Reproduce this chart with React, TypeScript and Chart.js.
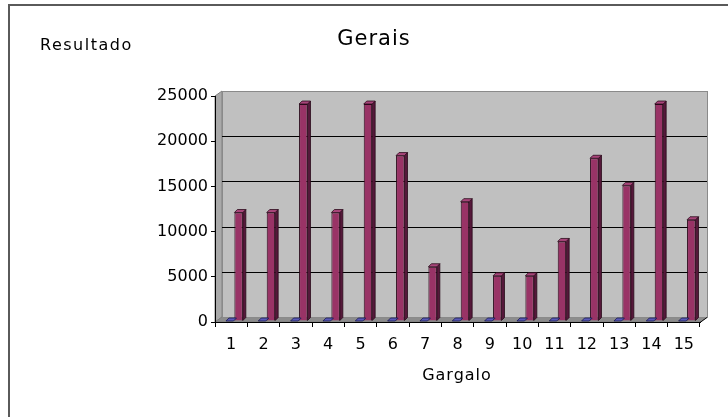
import React, { useEffect, useRef } from "react";
import { Chart, registerables } from "chart.js";

Chart.register(...registerables);

// ---- data ----
const categories = ["1", "2", "3", "4", "5", "6", "7", "8", "9", "10", "11", "12", "13", "14", "15"];
const serie1 = [0, 0, 0, 0, 0, 0, 0, 0, 0, 0, 0, 0, 0, 0, 0];
const serie2 = [12000, 12000, 24000, 12000, 24000, 18300, 6000, 13200, 5000, 5000, 8800, 18000, 15000, 24000, 11200];
const yTicks = [0, 5000, 10000, 15000, 20000, 25000];
const chartTitle = "Gerais";
const yTitle = "Resultado";
const xTitle = "Gargalo";

// ---- 3D look ----
const DX = 7;
const DY = -5;
const BX = 3;
const BY = -1;
const BD = 3;
const FONT = '"DejaVu Sans", sans-serif';

const faceColors = [
  { top: "#5a5ab8", side: "#2a2a70", edge: "#1a1a50" },
  { top: "#a8457a", side: "#55183a", edge: "#2a0a1a" },
];

function poly(ctx: CanvasRenderingContext2D, pts: number[][]) {
  ctx.beginPath();
  ctx.moveTo(pts[0][0], pts[0][1]);
  for (let i = 1; i < pts.length; i++) ctx.lineTo(pts[i][0], pts[i][1]);
  ctx.closePath();
}

const chart3d = {
  id: "chart3d",
  beforeDraw(chart: any) {
    const { ctx, chartArea } = chart;
    const { left, right, top, bottom } = chartArea;
    const y = chart.scales.y;
    ctx.save();
    // outer frame
    ctx.strokeStyle = "#5a5a5a";
    ctx.lineWidth = 2;
    ctx.beginPath();
    ctx.moveTo(9, 417);
    ctx.lineTo(9, 5);
    ctx.lineTo(728, 5);
    ctx.stroke();

    // side wall
    ctx.fillStyle = "#a9a9a9";
    poly(ctx, [[left, top], [left + DX, top + DY], [left + DX, bottom + DY], [left, bottom]]);
    ctx.fill();
    ctx.strokeStyle = "#808080";
    ctx.lineWidth = 1;
    ctx.stroke();
    // floor
    ctx.fillStyle = "#8c8c8c";
    poly(ctx, [[left, bottom], [left + DX, bottom + DY], [right + DX, bottom + DY], [right, bottom]]);
    ctx.fill();
    ctx.stroke();
    // back wall
    ctx.fillStyle = "#c0c0c0";
    ctx.fillRect(left + DX, top + DY, right - left, bottom - top);
    ctx.strokeStyle = "#8a8a8a";
    ctx.strokeRect(left + DX + 0.5, top + DY + 0.5, right - left, bottom - top);
    // gridlines on wall
    ctx.strokeStyle = "#000";
    ctx.lineWidth = 1;
    for (const v of yTicks) {
      if (v === 0 || v === 25000) continue;
      const py = Math.round(y.getPixelForValue(v) + DY) + 0.5;
      ctx.beginPath();
      ctx.moveTo(left + DX, py);
      ctx.lineTo(right + DX, py);
      ctx.stroke();
    }
    // right end diagonal of the x axis
    ctx.beginPath();
    ctx.moveTo(right, bottom + 0.5);
    ctx.lineTo(right + DX, bottom + DY + 0.5);
    ctx.stroke();
    ctx.restore();
  },
  beforeDatasetsDraw(chart: any) {
    chart.ctx.save();
    chart.ctx.translate(BX, BY);
  },
  afterDatasetsDraw(chart: any) {
    const ctx = chart.ctx;
    chart.data.datasets.forEach((_ds: any, di: number) => {
      const meta = chart.getDatasetMeta(di);
      const c = faceColors[di];
      meta.data.forEach((el: any) => {
        const { x, y, base, width } = el.getProps(["x", "y", "base", "width"], true);
        const l = x - width / 2;
        const r = x + width / 2;
        ctx.lineWidth = 0.8;
        ctx.strokeStyle = c.edge;
        if (base - y > 0.5) {
          ctx.fillStyle = c.side;
          poly(ctx, [[r, y], [r + BD, y - BD], [r + BD, base - BD], [r, base]]);
          ctx.fill();
          ctx.stroke();
        }
        ctx.fillStyle = c.top;
        poly(ctx, [[l, y], [l + BD, y - BD], [r + BD, y - BD], [r, y]]);
        ctx.fill();
        ctx.stroke();
      });
    });
    ctx.restore();
  },
  afterDraw(chart: any) {
    const ctx = chart.ctx;
    ctx.save();
    ctx.fillStyle = "#000";
    ctx.textBaseline = "alphabetic";
    (ctx as any).letterSpacing = "1px";
    ctx.font = `21px ${FONT}`;
    ctx.textAlign = "center";
    ctx.fillText(chartTitle, 374, 45);
    (ctx as any).letterSpacing = "1.5px";
    ctx.font = `16px ${FONT}`;
    ctx.textAlign = "left";
    ctx.fillText(yTitle, 40, 50);
    (ctx as any).letterSpacing = "1px";
    ctx.textAlign = "center";
    ctx.fillText(xTitle, 457, 380);
    ctx.restore();
  },
};

export default function App() {
  const ref = useRef<HTMLCanvasElement | null>(null);
  useEffect(() => {
    if (!ref.current) return;
    const chart = new Chart(ref.current, {
      type: "bar",
      data: {
        labels: categories,
        datasets: [
          {
            label: "Série 1",
            data: serie1,
            backgroundColor: "#6666cc",
            borderColor: faceColors[0].edge,
            borderWidth: 1,
            categoryPercentage: 0.55,
            barPercentage: 0.85,
            clip: false as any,
          },
          {
            label: "Série 2",
            data: serie2,
            backgroundColor: "#993366",
            borderColor: faceColors[1].edge,
            borderWidth: 1,
            categoryPercentage: 0.55,
            barPercentage: 0.95,
            clip: false as any,
          },
        ],
      },
      options: {
        animation: false,
        responsive: false,
        layout: { padding: { top: 96, right: 28, left: 0, bottom: 0 } },
        plugins: {
          legend: { display: false },
          title: { display: false },
          tooltip: { enabled: false },
        },
        scales: {
          x: {
            grid: { display: true, drawOnChartArea: false, drawTicks: true, tickLength: 5, color: "#000", offset: true },
            border: { display: true, color: "#000", width: 1 },
            ticks: { color: "#000", font: { family: FONT, size: 16 }, padding: 8, maxRotation: 0, autoSkip: false },
            afterFit: (s: any) => {
              s.height = 95;
            },
          },
          y: {
            min: 0,
            max: 25000,
            afterBuildTicks: (s: any) => {
              s.ticks = yTicks.map((v) => ({ value: v }));
            },
            ticks: { color: "#000", font: { family: FONT, size: 16 }, padding: 3, callback: (v: any) => String(v) },
            grid: { display: true, drawOnChartArea: false, drawTicks: true, tickLength: 4, color: "#000" },
            border: { display: true, color: "#000", width: 1 },
            afterFit: (s: any) => {
              s.width = 215;
            },
          },
        },
      },
      plugins: [chart3d],
    });
    return () => chart.destroy();
  }, []);
  return (
    <div style={{ position: "fixed", left: 0, top: 0, width: 728, height: 417, background: "#fff" }}>
      <canvas ref={ref} width={728} height={417} style={{ display: "block" }} />
    </div>
  );
}
